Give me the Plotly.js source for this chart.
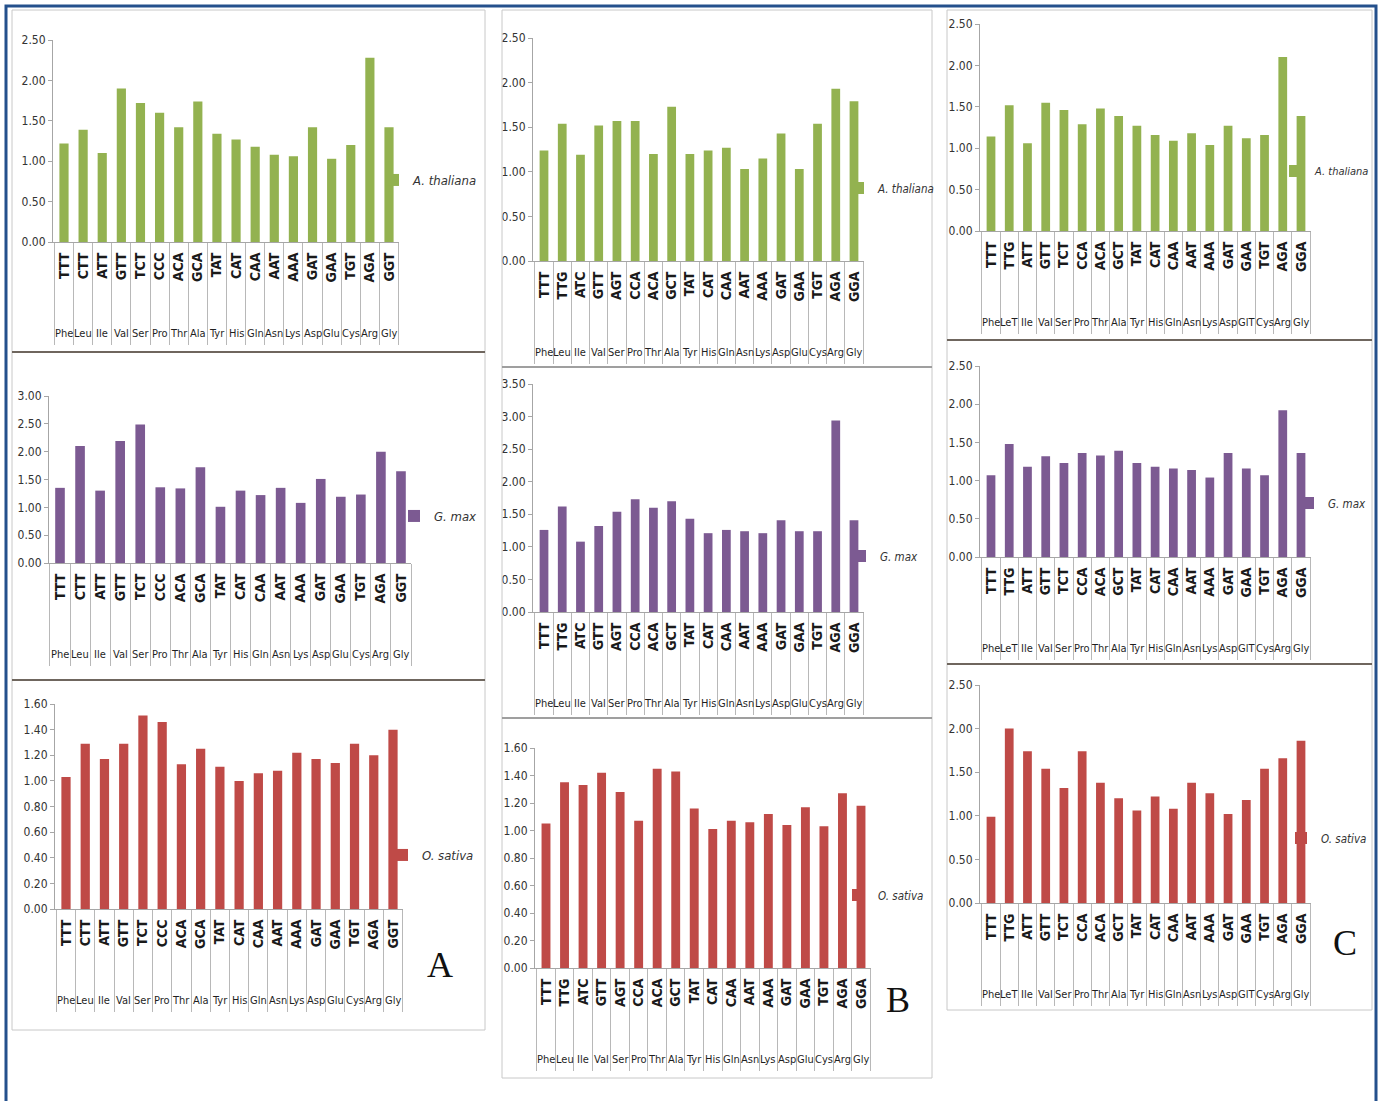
<!DOCTYPE html>
<html>
<head>
<meta charset="utf-8">
<script src="https://cdn.plot.ly/plotly-3.0.1.min.js"></script>
<style>html,body{margin:0;padding:0;background:#fff;}#chart{width:1379px;height:1101px;}</style>
</head>
<body>
<div id="chart"></div>
<script>
// ---- Data ----
const aaA = ['Phe','Leu','Ile','Val','Ser','Pro','Thr','Ala','Tyr','His','Gln','Asn','Lys','Asp','Glu','Cys','Arg','Gly'];
const codonA = ['TTT','CTT','ATT','GTT','TCT','CCC','ACA','GCA','TAT','CAT','CAA','AAT','AAA','GAT','GAA','TGT','AGA','GGT'];
const aaB = ['Phe','Leu','Ile','Val','Ser','Pro','Thr','Ala','Tyr','His','Gln','Asn','Lys','Asp','Glu','Cys','Arg','Gly'];
const codonB = ['TTT','TTG','ATC','GTT','AGT','CCA','ACA','GCT','TAT','CAT','CAA','AAT','AAA','GAT','GAA','TGT','AGA','GGA'];
const aaC = ['Phe','LeT','Ile','Val','Ser','Pro','Thr','Ala','Tyr','His','Gln','Asn','Lys','Asp','GlT','Cys','Arg','Gly'];
const codonC = ['TTT','TTG','ATT','GTT','TCT','CCA','ACA','GCT','TAT','CAT','CAA','AAT','AAA','GAT','GAA','TGT','AGA','GGA'];

const thalianaA = [1.22,1.39,1.10,1.90,1.72,1.60,1.42,1.74,1.34,1.27,1.18,1.08,1.06,1.42,1.03,1.20,2.28,1.42];
const gmaxA     = [1.35,2.10,1.30,2.19,2.49,1.36,1.34,1.72,1.01,1.30,1.22,1.35,1.08,1.51,1.19,1.23,2.00,1.65];
const sativaA   = [1.03,1.29,1.17,1.29,1.51,1.46,1.13,1.25,1.11,1.00,1.06,1.08,1.22,1.17,1.14,1.29,1.20,1.40];

const thalianaB = [1.24,1.54,1.19,1.52,1.57,1.57,1.20,1.73,1.20,1.24,1.27,1.03,1.15,1.43,1.03,1.54,1.93,1.79];
const gmaxB     = [1.26,1.62,1.08,1.32,1.54,1.73,1.60,1.70,1.43,1.21,1.26,1.24,1.21,1.41,1.24,1.24,2.94,1.41];
const sativaB   = [1.05,1.35,1.33,1.42,1.28,1.07,1.45,1.43,1.16,1.01,1.07,1.06,1.12,1.04,1.17,1.03,1.27,1.18];

const thalianaC = [1.14,1.52,1.06,1.55,1.46,1.29,1.48,1.39,1.27,1.16,1.09,1.18,1.04,1.27,1.12,1.16,2.10,1.39];
const gmaxC     = [1.07,1.48,1.18,1.32,1.23,1.36,1.33,1.39,1.23,1.18,1.16,1.14,1.04,1.36,1.16,1.07,1.92,1.36];
const sativaC   = [0.99,2.00,1.74,1.54,1.32,1.74,1.38,1.20,1.06,1.22,1.08,1.38,1.26,1.02,1.18,1.54,1.66,1.86];

const seriesNames = ['A. thaliana','G. max','O. sativa'];
const panelLetters = ['A','B','C'];

// ---- Styling / geometry ----
const W = 1379, H = 1101;
const GREEN = '#93b250', PURPLE = '#7c5a92', RED = '#bf4a47';
const px = v => v / W;
const py = v => 1 - v / H;
const FONT = 'Liberation Sans Narrow, DejaVu Sans Condensed, Arial Narrow, sans-serif';
const TABLE_DEPTH = 102;   // length of the category divider lines below the axis
const AA_OFFSET = 91;      // distance of amino-acid row below the axis

const panels = [
  {aa:aaA, codon:codonA, vals:thalianaA, name:seriesNames[0], color:GREEN,  x0:53,  x1:399,  yt:40,  yb:242, ymax:2.5, dtick:0.5, lx:373,  ly:180, lf:13},
  {aa:aaA, codon:codonA, vals:gmaxA,     name:seriesNames[1], color:PURPLE, x0:49,  x1:411,  yt:396, yb:563, ymax:3.0, dtick:0.5, lx:394,  ly:516, lf:13},
  {aa:aaA, codon:codonA, vals:sativaA,   name:seriesNames[2], color:RED,    x0:55,  x1:403,  yt:704, yb:909, ymax:1.6, dtick:0.2, lx:382,  ly:855, lf:13},
  {aa:aaB, codon:codonB, vals:thalianaB, name:seriesNames[0], color:GREEN,  x0:533, x1:864,  yt:38,  yb:261, ymax:2.5, dtick:0.5, lx:838,  ly:188, lf:11.5},
  {aa:aaB, codon:codonB, vals:gmaxB,     name:seriesNames[1], color:PURPLE, x0:533, x1:864,  yt:384, yb:612, ymax:3.5, dtick:0.5, lx:840,  ly:556, lf:11.5},
  {aa:aaB, codon:codonB, vals:sativaB,   name:seriesNames[2], color:RED,    x0:535, x1:871,  yt:748, yb:968, ymax:1.6, dtick:0.2, lx:838,  ly:895, lf:11.5},
  {aa:aaC, codon:codonC, vals:thalianaC, name:seriesNames[0], color:GREEN,  x0:980, x1:1311, yt:24,  yb:231, ymax:2.5, dtick:0.5, lx:1275, ly:171, lf:11},
  {aa:aaC, codon:codonC, vals:gmaxC,     name:seriesNames[1], color:PURPLE, x0:980, x1:1311, yt:366, yb:557, ymax:2.5, dtick:0.5, lx:1288, ly:503, lf:11.5},
  {aa:aaC, codon:codonC, vals:sativaC,   name:seriesNames[2], color:RED,    x0:980, x1:1311, yt:685, yb:903, ymax:2.5, dtick:0.5, lx:1281, ly:838, lf:11.5}
];

const data = [];
const layout = {
  width: W, height: H,
  margin: {l:0, r:0, t:0, b:0},
  paper_bgcolor: '#ffffff',
  plot_bgcolor: 'rgba(0,0,0,0)',
  bargap: 0.52,
  font: {family: FONT, color: '#404040', size: 12},
  shapes: [], annotations: []
};

panels.forEach((p, i) => {
  const s = i === 0 ? '' : String(i + 1);
  const legKey = i === 0 ? 'legend' : 'legend' + (i + 1);
  data.push({
    type: 'bar',
    x: p.codon,
    y: p.vals,
    name: '<i>' + p.name + '</i>',
    marker: {color: p.color},
    xaxis: 'x' + s, yaxis: 'y' + s,
    legend: legKey,
    showlegend: true,
    hoverinfo: 'y'
  });
  layout['xaxis' + s] = {
    domain: [px(p.x0), px(p.x1)],
    anchor: 'y' + s,
    type: 'category',
    categoryorder: 'array', categoryarray: p.codon,
    showline: true, linecolor: '#a6a6a6', linewidth: 1,
    tickson: 'boundaries',
    ticks: 'outside', ticklen: TABLE_DEPTH, tickwidth: 1, tickcolor: '#b8b8b8',
    ticklabelstandoff: 4,
    tickangle: -90,
    tickfont: {family: FONT, size: 14, color: '#1a1a1a', weight: 'bold'},
    showgrid: false, zeroline: false
  };
  layout['yaxis' + s] = {
    domain: [py(p.yb), py(p.yt)],
    anchor: 'x' + s,
    range: [0, p.ymax], dtick: p.dtick, tick0: 0,
    tickformat: '.2f',
    showline: true, linecolor: '#a6a6a6', linewidth: 1,
    ticks: 'outside', ticklen: 4, tickcolor: '#a6a6a6',
    tickfont: {family: FONT, size: 12, color: '#333333'},
    showgrid: false, zeroline: false
  };
  layout[legKey] = {
    x: px(p.lx), y: py(p.ly), xanchor: 'left', yanchor: 'middle',
    bgcolor: 'rgba(0,0,0,0)', borderwidth: 0,
    font: {family: FONT, size: p.lf, color: '#333333'},
    itemwidth: 30
  };
  // amino-acid row under the codons
  p.codon.forEach((c, k) => layout.annotations.push({
    text: p.aa[k], xref: 'x' + s, yref: 'paper',
    x: c, y: py(p.yb + AA_OFFSET), xanchor: 'center', yanchor: 'middle',
    showarrow: false,
    font: {family: FONT, size: 11, color: '#1f1f1f'}
  }));
});

// panel boxes
const boxes = [
  [12,10,485,352],[12,352,485,680],[12,680,485,1030],
  [502,10,932,367],[502,367,932,718],[502,718,932,1078],
  [947,10,1372,340],[947,340,1372,664],[947,664,1372,1010]
];
boxes.forEach(b => layout.shapes.push({
  type:'rect', xref:'paper', yref:'paper',
  x0:px(b[0]), x1:px(b[2]), y0:py(b[3]), y1:py(b[1]),
  line:{color:'#c8c8c8', width:1}
}));
// darker row separators
[[12,485,352],[12,485,680],[947,1372,340],[947,1372,664]].forEach(l => layout.shapes.push({
  type:'line', xref:'paper', yref:'paper',
  x0:px(l[0]), x1:px(l[1]), y0:py(l[2]), y1:py(l[2]),
  line:{color:'#6f665e', width:2}
}));
[[502,932,367],[502,932,718]].forEach(l => layout.shapes.push({
  type:'line', xref:'paper', yref:'paper',
  x0:px(l[0]), x1:px(l[1]), y0:py(l[2]), y1:py(l[2]),
  line:{color:'#8c8c8c', width:1.5}
}));
// outer blue frame
layout.shapes.push({
  type:'rect', xref:'paper', yref:'paper',
  x0:px(6), x1:px(1376), y0:py(1104), y1:py(6),
  line:{color:'#24508c', width:3}
});

// panel letters
[[440,965],[898,1000],[1345,943]].forEach((pos, k) => layout.annotations.push({
  text: panelLetters[k], xref:'paper', yref:'paper',
  x: px(pos[0]), y: py(pos[1]), xanchor:'center', yanchor:'middle',
  showarrow:false,
  font:{family:'Liberation Serif, DejaVu Serif, serif', size:36, color:'#111111'}
}));

Plotly.newPlot('chart', data, layout, {staticPlot: true, displayModeBar: false});
</script>
</body>
</html>
